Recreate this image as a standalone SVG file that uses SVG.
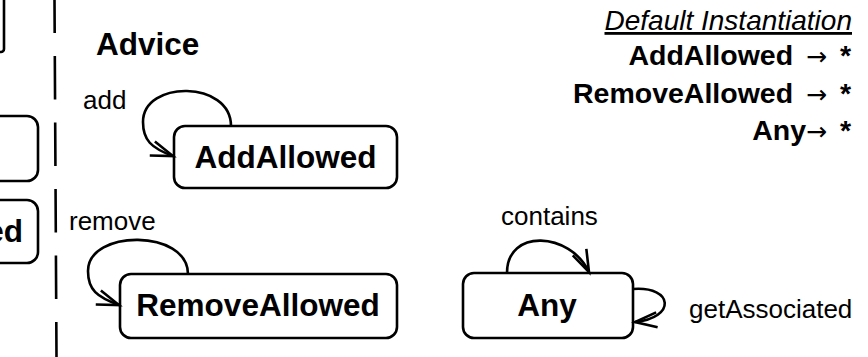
<svg xmlns="http://www.w3.org/2000/svg" width="868" height="357" viewBox="0 0 868 357">
<style>
.box{fill:#fff;stroke:#000;stroke-width:2.6}
.lbl{font-family:"Liberation Sans",Arial,sans-serif;font-weight:bold;font-size:31.5px;fill:#000}
.ev{font-family:"Liberation Sans",Arial,sans-serif;font-size:26px;fill:#000}
.rt{font-family:"Liberation Sans",Arial,sans-serif;font-weight:bold;font-size:28.5px;fill:#000;word-spacing:5px}
.it{font-family:"Liberation Sans",Arial,sans-serif;font-style:italic;font-size:28px;fill:#000;text-decoration:underline}
.arr{font-family:"DejaVu Sans",sans-serif;font-weight:normal;font-size:25px}
.loop{fill:none;stroke:#000;stroke-width:2.6;marker-end:url(#open)}
.sep{stroke:#000;stroke-width:2.6;stroke-dasharray:43.5 23;stroke-dashoffset:10.5}
</style>
<defs>
<marker id="open" markerUnits="userSpaceOnUse" markerWidth="30" markerHeight="30" refX="0" refY="0" viewBox="-26 -12 30 24" orient="auto" overflow="visible">
<path d="M-22,-7.5 L0,0 L-22,7.5" fill="none" stroke="#000" stroke-width="2.6"/>
</marker>
</defs>
<rect width="868" height="357" fill="#fff"/>

<g id="left-panel">
<rect class="box" x="-60" y="-40" width="64" height="92" rx="3"/>
<rect class="box" x="-60" y="116" width="98" height="65" rx="11"/>
<rect class="box" x="-60" y="200" width="98" height="63" rx="11"/>
<text class="lbl" x="23" y="242" text-anchor="end">ed</text>
</g>

<line id="separator" class="sep" x1="54.5" y1="0" x2="56.5" y2="357"/>

<text id="title" class="lbl" x="96" y="55">Advice</text>

<g id="default-instantiation">
<text class="it" x="852" y="30" text-anchor="end">Default Instantiation</text>
<text class="rt" x="851" y="65" text-anchor="end">AddAllowed <tspan class="arr">→</tspan> *</text>
<text class="rt" x="851" y="103" text-anchor="end">RemoveAllowed <tspan class="arr">→</tspan> *</text>
<text class="rt" x="851" y="140" text-anchor="end">Any<tspan class="arr">→</tspan> *</text>
</g>

<g id="AddAllowed">
<rect class="box" x="174" y="126" width="223" height="62" rx="11"/>
<text class="lbl" x="285.5" y="168" text-anchor="middle">AddAllowed</text>
</g>

<g id="RemoveAllowed">
<rect class="box" x="120" y="274" width="277" height="64" rx="11"/>
<text class="lbl" x="258" y="316" text-anchor="middle">RemoveAllowed</text>
</g>

<g id="Any">
<rect class="box" x="463" y="273" width="170" height="65" rx="11"/>
<text class="lbl" x="547" y="316" text-anchor="middle">Any</text>
</g>

<g id="connectors">
<path class="loop" d="M231,126 C231,80 143,80 143,122 C143,140 151,148 173,156"/>
<text class="ev" x="83" y="109">add</text>
<path class="loop" d="M188,274 C188,229 88,229 88,271 C88,290 97,297 119,305"/>
<text class="ev" x="69" y="230">remove</text>
<path class="loop" d="M507,273 C507,228 570,232 589,272"/>
<text class="ev" x="501" y="225">contains</text>
<path class="loop" d="M633,289 C674,286 676,318 635,322"/>
<text class="ev" x="689" y="318">getAssociated</text>
</g>
</svg>
